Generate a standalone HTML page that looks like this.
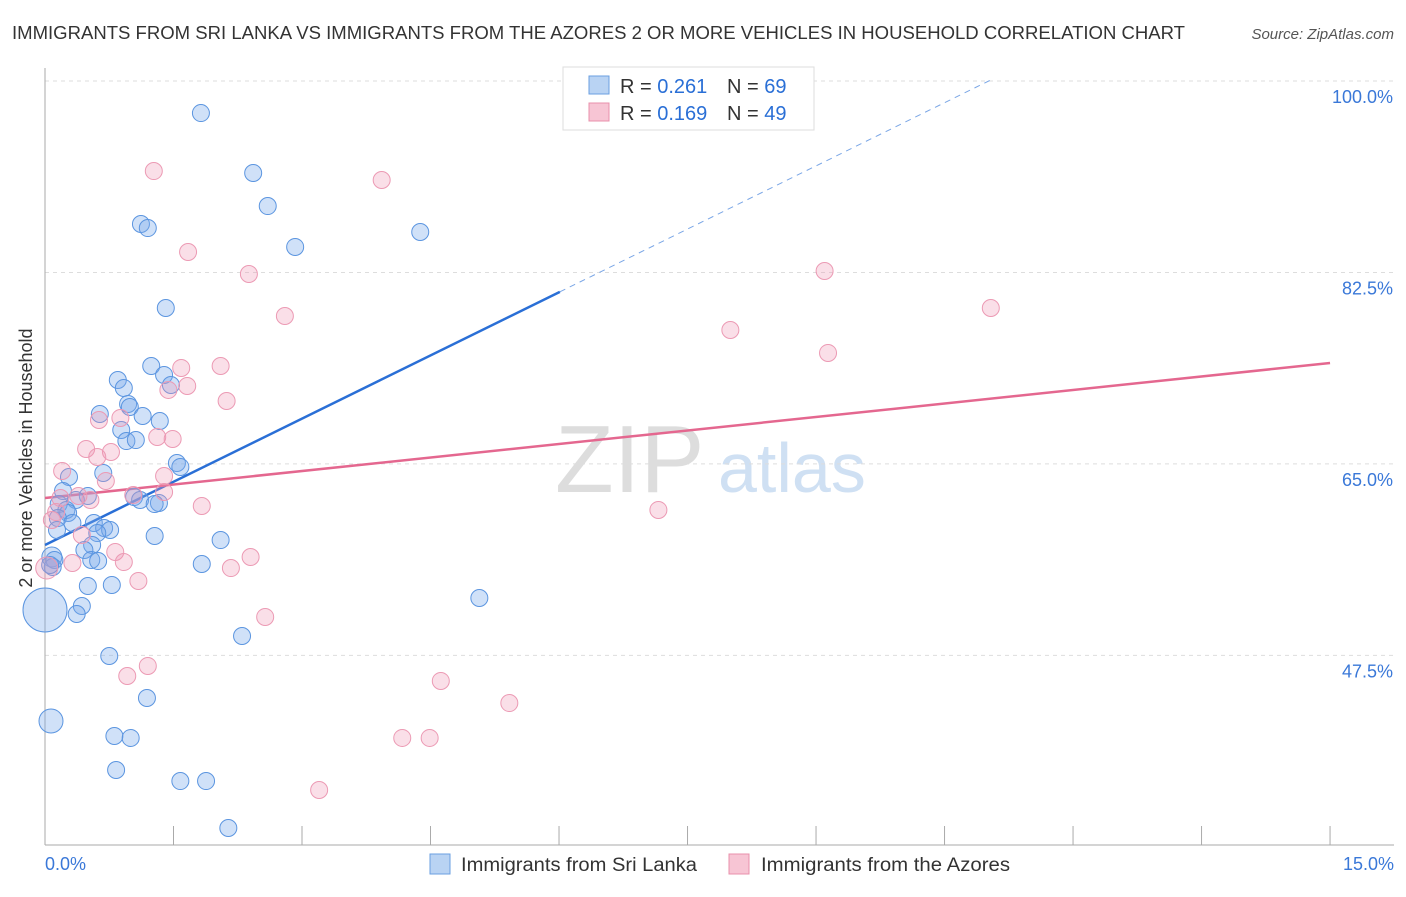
<!DOCTYPE html>
<html><head><meta charset="utf-8"><style>
body{margin:0;background:#fff;font-family:"Liberation Sans",sans-serif}
svg text{font-family:"Liberation Sans",sans-serif}
</style></head><body>
<svg id="chart" width="1406" height="892" xmlns="http://www.w3.org/2000/svg">
<text x="12" y="39" font-size="18" fill="#333" textLength="1173" lengthAdjust="spacingAndGlyphs">IMMIGRANTS FROM SRI LANKA VS IMMIGRANTS FROM THE AZORES 2 OR MORE VEHICLES IN HOUSEHOLD CORRELATION CHART</text>
<text x="1394" y="39" font-size="15" fill="#555" font-style="italic" text-anchor="end">Source: ZipAtlas.com</text>
<text x="555" y="492" font-size="96" fill="#ddd" font-family="Liberation Serif">ZIP</text>
<text x="718" y="492" font-size="70" fill="#cfe0f3">atlas</text>
<text transform="translate(32,458) rotate(-90)" font-size="18" fill="#333" text-anchor="middle">2 or more Vehicles in Household</text>
<g id="grid"></g><g id="axes"></g><g id="lines"></g><g id="pts"></g>
<g>
<rect x="563" y="67" width="251" height="63" fill="#fff" stroke="#ddd"/>
<rect x="589" y="76" width="20" height="18" fill="#b9d3f3" stroke="#6a9fe0"/>
<rect x="589" y="103" width="20" height="18" fill="#f7c5d4" stroke="#e890ab"/>
<text x="620" y="93" font-size="20" fill="#333">R = <tspan fill="#2a6fd6">0.261</tspan></text>
<text x="727" y="93" font-size="20" fill="#333">N = <tspan fill="#2a6fd6">69</tspan></text>
<text x="620" y="120" font-size="20" fill="#333">R = <tspan fill="#2a6fd6">0.169</tspan></text>
<text x="727" y="120" font-size="20" fill="#333">N = <tspan fill="#2a6fd6">49</tspan></text>
</g>
<g>
<rect x="430" y="854" width="20" height="20" fill="#b9d3f3" stroke="#6a9fe0"/>
<text x="461" y="871" font-size="19" fill="#333" textLength="236" lengthAdjust="spacingAndGlyphs">Immigrants from Sri Lanka</text>
<rect x="729" y="854" width="20" height="20" fill="#f7c5d4" stroke="#e890ab"/>
<text x="761" y="871" font-size="19" fill="#333" textLength="249" lengthAdjust="spacingAndGlyphs">Immigrants from the Azores</text>
</g>
</svg>
<script>
const yTicks=[100,82.5,65,47.5];
const yTickLabels=["100.0%","82.5%","65.0%","47.5%"];
const xTickLabels=["0.0%","15.0%"];
const blueX=[1.82,2.43,2.60,1.12,1.20,2.92,4.38,1.41,1.24,1.39,0.85,0.92,1.47,0.97,0.99,0.64,1.14,1.34,0.89,0.95,1.06,1.54,1.58,0.68,0.28,0.21,0.50,1.04,1.11,1.33,1.28,0.36,0.16,0.25,0.27,0.15,0.32,0.57,0.69,0.76,0.61,0.14,1.28,2.05,0.55,0.46,0.08,0.11,0.54,0.62,1.83,0.50,0.78,0.43,0.37,0,2.30,0.75,1.19,0.07,0.81,1.00,5.07,0.83,1.58,1.88,2.14,0.09,0.06];
const blueY=[97.07,91.59,88.57,86.93,86.56,84.83,86.20,79.25,73.95,73.13,72.67,71.94,72.21,70.48,70.20,69.56,69.38,68.92,68.10,67.09,67.18,65.08,64.72,64.17,63.80,62.52,62.07,61.97,61.70,61.43,61.33,61.70,61.33,60.79,60.51,60.05,59.60,59.60,59.14,58.96,58.68,58.96,58.41,58.04,57.59,57.13,56.49,56.22,56.22,56.12,55.85,53.84,53.93,52.01,51.28,51.65,49.27,47.44,43.60,41.50,40.13,39.95,52.74,37.02,36.01,36.01,31.72,55.58,55.76];
const blueSize=blueX.map((v,i)=>i===55?22:i===59?12:i===46?10:8.5);
const pinkX=[1.27,3.93,1.67,2.38,2.80,9.10,8.00,11.04,9.14,2.05,1.59,1.44,1.66,2.12,0.88,0.63,1.31,1.49,0.48,0.77,0.61,0.20,0.71,0.18,1.39,1.39,1.03,0.53,1.83,7.16,0.08,0.43,0.82,2.40,2.17,0.92,0.32,1.09,2.57,1.20,0.96,4.62,5.42,4.17,4.49,3.20,0.02,0.13,0.39];
const pinkY=[91.77,90.95,84.37,82.36,78.52,82.63,77.24,79.25,75.14,73.95,73.77,71.76,72.12,70.75,69.20,69.01,67.46,67.28,66.36,66.09,65.63,64.35,63.44,61.88,63.89,62.43,62.16,61.70,61.15,60.79,59.87,58.50,56.95,56.49,55.48,56.03,55.94,54.30,51.01,46.53,45.61,45.16,43.14,39.95,39.95,35.19,55.48,60.60,62.07];
const pinkSize=pinkX.map((v,i)=>i===46?11:8.5);
const blueTrend=[57.59,3.85];
const pinkTrend=[61.88,0.823];
const NS="http://www.w3.org/2000/svg";
const sx=v=>45+v*85.67, sy=v=>81+(100-v)*10.94;
function mk(p,t,a){const e=document.createElementNS(NS,t);for(const k in a)e.setAttribute(k,a[k]);document.getElementById(p).appendChild(e);return e;}
yTicks.forEach((t,i)=>{
 const g=mk('grid','line',{x1:45,x2:1394,y1:sy(t),y2:sy(t),stroke:'#ddd','stroke-dasharray':'4,4'});
 
 
 const l=mk('axes','text',{x:1393,y:sy(t)+22,'font-size':18,fill:'#3a78d8','text-anchor':'end'});
 l.textContent=yTickLabels[i];
 
 
});
const ax=mk('axes','line',{x1:45,x2:45,y1:68,y2:845,stroke:'#aaa'});


const bx=mk('axes','line',{x1:45,x2:1394,y1:845,y2:845,stroke:'#aaa'});


for(let i=0;i<=10;i++){const t=mk('axes','line',{x1:sx(i*1.5),x2:sx(i*1.5),y1:826,y2:845,stroke:'#aaa'});
 
 }
[[0,'start',45],[1,'end',1394]].forEach(([i,a,x])=>{const t=mk('axes','text',{x:x,y:870,'font-size':18,fill:'#3a78d8','text-anchor':a});t.textContent=xTickLabels[i];
 
 });
const bt=v=>blueTrend[0]+blueTrend[1]*v, pt=v=>pinkTrend[0]+pinkTrend[1]*v;
const b1=mk('lines','line',{x1:sx(0),y1:sy(bt(0)),x2:sx(6.01),y2:sy(bt(6.01)),stroke:'#2a6fd6','stroke-width':2.5});


const b2=mk('lines','line',{x1:sx(6.01),y1:sy(bt(6.01)),x2:sx(11.07),y2:sy(bt(11.07)),stroke:'#7aa6e6','stroke-width':1,'stroke-dasharray':'6,5'});


const p1=mk('lines','line',{x1:sx(0),y1:sy(pt(0)),x2:sx(15),y2:sy(pt(15)),stroke:'#e4678f','stroke-width':2.5});


blueX.forEach((v,i)=>{const c=mk('pts','circle',{cx:sx(v),cy:sy(blueY[i]),r:blueSize[i],fill:'rgba(120,170,235,0.35)',stroke:'#5b95e0','stroke-width':1});
 
 });
pinkX.forEach((v,i)=>{const c=mk('pts','circle',{cx:sx(v),cy:sy(pinkY[i]),r:pinkSize[i],fill:'rgba(240,150,180,0.3)',stroke:'#ec9ab4','stroke-width':1});
 
 });
</script>
</body></html>
